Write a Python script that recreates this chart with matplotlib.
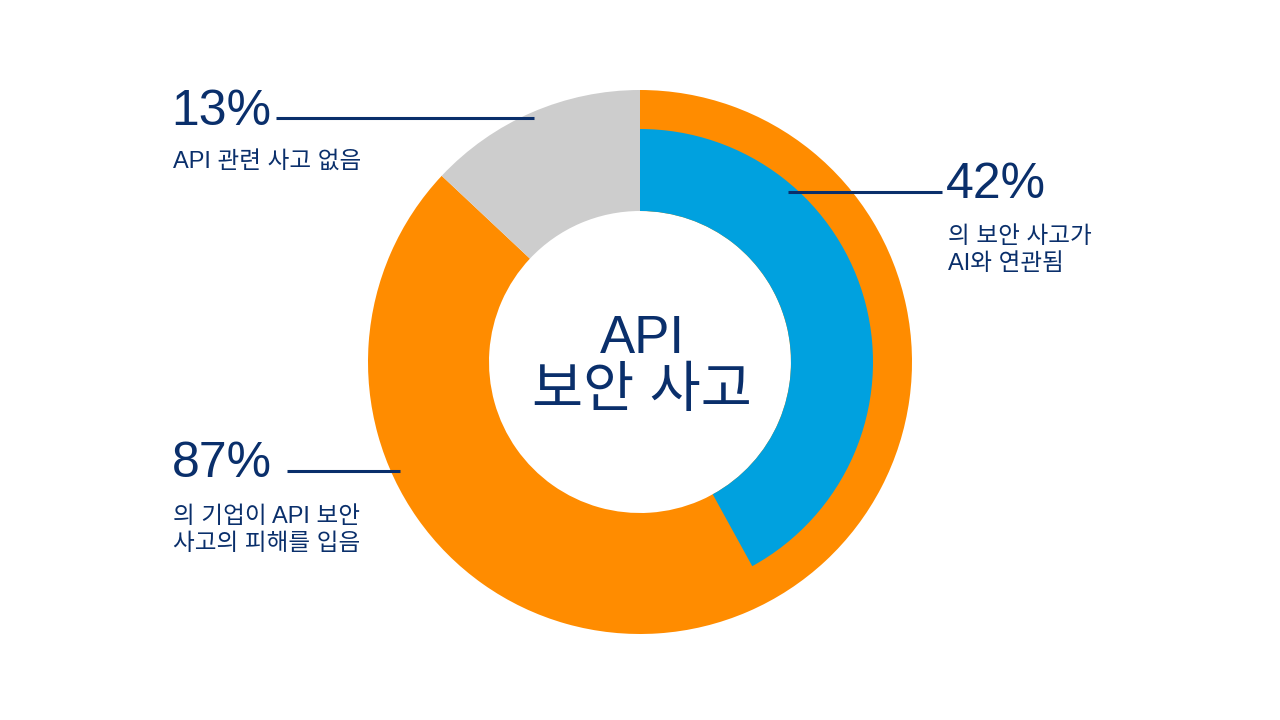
import matplotlib.pyplot as plt

# outer ring: companies hit by API security incidents
outer_labels = ["API 보안 사고 피해", "API 관련 사고 없음"]
outer_values = [87, 13]
# inner ring: share of incidents linked to AI
inner_labels = ["AI 연관", "기타"]
inner_values = [42, 58]

ORANGE = "#FF8C00"
BLUE = "#00A1DF"
GRAY = "#CDCDCD"
NAVY = "#0A2F6B"

fonts = ["Liberation Sans", "Noto Sans CJK KR", "DejaVu Sans"]
plt.rcParams["font.family"] = fonts

fig = plt.figure(figsize=(12.8, 7.2), dpi=100)
ax = fig.add_axes([0, 0, 1, 1])

H = 720
cx, cy = 640, H - 362

# outer donut
ax.pie(outer_values, colors=[ORANGE, GRAY], startangle=90, counterclock=False,
       radius=272, center=(cx, cy), frame=True,
       wedgeprops=dict(width=121, edgecolor="none", linewidth=0))
# inner ring, only the AI share is shown
ax.pie(inner_values, colors=[BLUE, "none"], startangle=90, counterclock=False,
       radius=233, center=(cx, cy), frame=True,
       wedgeprops=dict(width=82, edgecolor="none", linewidth=0))
ax.set_xlim(0, 1280)
ax.set_ylim(0, 720)
ax.set_aspect("equal")
ax.axis("off")

# centre label
ax.text(cx + 2, H - 353, "API", ha="center", va="baseline", fontsize=38, color=NAVY)
ax.text(cx + 2, H - 407, "보안 사고", ha="center", va="baseline", fontsize=40, color=NAVY)

big = 36
small = 17

# 13%
ax.text(171, H - 125, "13%", fontsize=big, color=NAVY, va="baseline")
ax.plot([276, 534], [H - 118, H - 118], color=NAVY, lw=2.2, solid_capstyle="butt")
ax.text(173, H - 168, "API 관련 사고 없음", fontsize=small, color=NAVY, va="baseline")

# 42%
ax.text(946, H - 198, "42%", fontsize=big, color=NAVY, va="baseline")
ax.plot([788, 942], [H - 192, H - 192], color=NAVY, lw=2.2, solid_capstyle="butt")
ax.text(948, H - 243, "의 보안 사고가", fontsize=small, color=NAVY, va="baseline")
ax.text(948, H - 270, "AI와 연관됨", fontsize=small, color=NAVY, va="baseline")

# 87%
ax.text(172, H - 477, "87%", fontsize=big, color=NAVY, va="baseline")
ax.plot([287, 400], [H - 471, H - 471], color=NAVY, lw=2.2, solid_capstyle="butt")
ax.text(173, H - 523, "의 기업이 API 보안", fontsize=small, color=NAVY, va="baseline")
ax.text(173, H - 550, "사고의 피해를 입음", fontsize=small, color=NAVY, va="baseline")

fig.savefig("out.png", dpi=100)
